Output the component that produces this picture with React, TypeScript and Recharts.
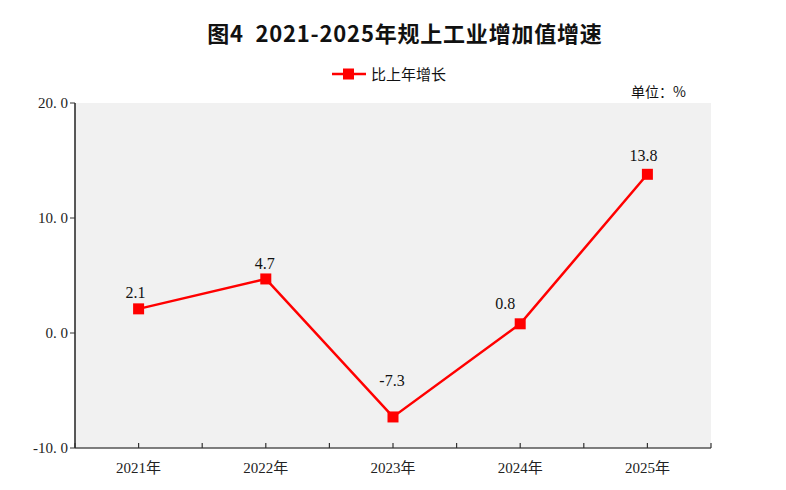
import React from "react";
import {
  LineChart,
  Line,
  XAxis,
  YAxis,
  CartesianGrid,
  LabelList,
} from "recharts";

const years = ["2021年", "2022年", "2023年", "2024年", "2025年"];
const growth = [2.1, 4.7, -7.3, 0.8, 13.8];
const yTicks = [-10, 0, 10, 20];

const data = years.map((year, i) => ({ year, growth: growth[i] }));

// nudges for the value labels so they sit like the original
const labelNudge: Record<number, [number, number]> = {
  0: [-3, -11],
  1: [-1, -10],
  2: [-1, -31],
  3: [-15, -15],
  4: [-4, -13],
};

const serif = "'Liberation Serif', 'Noto Sans CJK SC', serif";
const cjk = "'Noto Sans CJK SC', sans-serif";
const red = "#ff0000";
const tickGap = 14;

const SquareDot = (props: any) => {
  const { cx, cy } = props;
  if (cx == null || cy == null) return null;
  return <rect x={cx - 5.5} y={cy - 5.5} width={11} height={11} fill={red} />;
};

const ValueLabel = (props: any) => {
  const { x, y, value, index } = props;
  const [dx, dy] = labelNudge[index] || [0, -12];
  return (
    <text
      x={x + dx}
      y={y + dy}
      textAnchor="middle"
      fontSize={16}
      fontFamily={serif}
      fill="#111"
    >
      {value}
    </text>
  );
};

// category label plus small inward ticks at the centre and the band edges
const YearTick = (props: any) => {
  const { x, y, payload, index } = props;
  const half = payload.offset || 0;
  const axisY = y - tickGap;
  const marks = [x, x + half];
  if (index === 0) marks.push(x - half);
  return (
    <g>
      {marks.map((mx, i) => (
        <line key={i} x1={mx} x2={mx} y1={axisY - 5} y2={axisY} stroke="#333" strokeWidth={1.2} />
      ))}
      <text
        x={x}
        y={y}
        dy="0.71em"
        textAnchor="middle"
        fontSize={15}
        fontFamily={serif}
        fill="#222"
      >
        {payload.value}
      </text>
    </g>
  );
};

export default function App() {
  return (
    <div
      style={{
        position: "absolute",
        left: 0,
        top: 0,
        width: 786,
        height: 490,
        background: "#fff",
      }}
    >
      <div
        style={{
          position: "absolute",
          top: 16,
          left: 12,
          width: 786,
          textAlign: "center",
          fontFamily: cjk,
          fontWeight: 700,
          fontSize: 22,
          letterSpacing: 0.8,
          color: "#111",
          lineHeight: "32px",
          whiteSpace: "pre",
        }}
      >
        {"图4  2021-2025年规上工业增加值增速"}
      </div>
      <div
        style={{
          position: "absolute",
          top: 63,
          left: 332,
          display: "flex",
          alignItems: "center",
          fontFamily: cjk,
          fontSize: 15,
          color: "#111",
        }}
      >
        <svg width={34} height={14} style={{ marginRight: 5 }}>
          <line x1={0} y1={7} x2={34} y2={7} stroke={red} strokeWidth={2.5} />
          <rect x={11} y={1.5} width={11} height={11} fill={red} />
        </svg>
        比上年增长
      </div>
      <div
        style={{
          position: "absolute",
          top: 81,
          left: 631,
          fontFamily: cjk,
          fontSize: 14,
          color: "#111",
        }}
      >
        单位：%
      </div>
      <LineChart
        width={786}
        height={490}
        data={data}
        margin={{ top: 103, right: 75, bottom: 0, left: 15 }}
      >
        <CartesianGrid
          horizontal={false}
          vertical={false}
          fill="#f1f1f1"
          stroke="none"
        />
        <XAxis
          dataKey="year"
          scale="band"
          height={42}
          tickLine={false}
          tickSize={0}
          tickMargin={tickGap}
          axisLine={{ stroke: "#555", strokeWidth: 1.5 }}
          tick={<YearTick />}
          interval={0}
        />
        <YAxis
          domain={[-10, 20]}
          ticks={yTicks}
          width={60}
          interval={0}
          tickSize={5}
          tickLine={{ stroke: "#333" }}
          axisLine={{ stroke: "#222", strokeWidth: 1.5 }}
          tick={{ fontSize: 15, fontFamily: serif, fill: "#222" }}
          tickFormatter={(v: number) => v.toFixed(1).replace(".", ". ")}
        />
        <Line
          dataKey="growth"
          name="比上年增长"
          stroke={red}
          strokeWidth={2.5}
          dot={<SquareDot />}
          activeDot={false}
          isAnimationActive={false}
        >
          <LabelList dataKey="growth" content={<ValueLabel />} />
        </Line>
      </LineChart>
    </div>
  );
}
